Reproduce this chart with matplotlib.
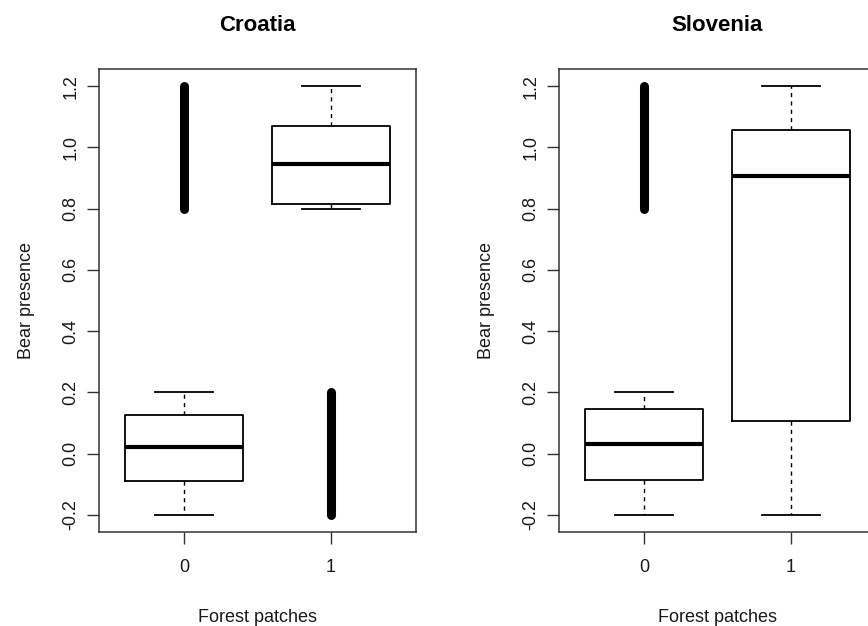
import numpy as np
import matplotlib
matplotlib.use("Agg")
import matplotlib.pyplot as plt

plt.rcParams['font.family'] = ['Liberation Sans', 'DejaVu Sans']

categories = ["0", "1"]
panels = ["Croatia", "Slovenia"]

# box statistics per panel, per category (0, 1)
croatia_whislo = [-0.2, 0.8]
croatia_q1 = [-0.09, 0.815]
croatia_med = [0.02, 0.945]
croatia_q3 = [0.125, 1.07]
croatia_whishi = [0.2, 1.2]
croatia_out_low = [0.8, -0.2]
croatia_out_high = [1.2, 0.2]

slovenia_whislo = [-0.2, -0.2]
slovenia_q1 = [-0.087, 0.106]
slovenia_med = [0.032, 0.907]
slovenia_q3 = [0.145, 1.056]
slovenia_whishi = [0.2, 1.2]
slovenia_out_low = [0.8, np.nan]
slovenia_out_high = [1.2, np.nan]

yticks = [-0.2, 0.0, 0.2, 0.4, 0.6, 0.8, 1.0, 1.2]
ytick_labels = ["-0.2", "0.0", "0.2", "0.4", "0.6", "0.8", "1.0", "1.2"]

data = {
    "Croatia": (croatia_whislo, croatia_q1, croatia_med, croatia_q3, croatia_whishi,
                croatia_out_low, croatia_out_high),
    "Slovenia": (slovenia_whislo, slovenia_q1, slovenia_med, slovenia_q3, slovenia_whishi,
                 slovenia_out_low, slovenia_out_high),
}

fig = plt.figure(figsize=(8.68, 6.26), dpi=100)
positions_ax = [[0.114, 0.1502, 0.3652, 0.7396], [0.644, 0.1502, 0.3652, 0.7396]]
txt = '#1a1a1a'

for name, pos in zip(panels, positions_ax):
    ax = fig.add_axes(pos)
    wl, q1, med, q3, wh, olo, ohi = data[name]
    stats = []
    for i in range(len(categories)):
        stats.append(dict(med=med[i], q1=q1[i], q3=q3[i], whislo=wl[i], whishi=wh[i], fliers=[]))
    xs = np.arange(len(categories))
    ax.bxp(stats, positions=xs, widths=0.8, capwidths=0.4, showfliers=False,
           boxprops=dict(color='black', linewidth=1.3),
           medianprops=dict(color='black', linewidth=3.0, solid_capstyle='butt'),
           whiskerprops=dict(color='black', linewidth=1.0, linestyle=(0, (3, 3))),
           capprops=dict(color='black', linewidth=1.3))
    for i in range(len(categories)):
        if not np.isnan(olo[i]):
            ax.plot([xs[i], xs[i]], [olo[i], ohi[i]], color='black', linewidth=6.5,
                    solid_capstyle='round')
    ax.set_xlim(-0.578, 1.578)
    ax.set_ylim(-0.256, 1.256)
    ax.set_xticks(xs)
    ax.set_xticklabels(categories, fontsize=13, color=txt)
    ax.set_yticks(yticks)
    ax.set_yticklabels(ytick_labels, fontsize=13, color=txt, rotation=90, va='center')
    ax.tick_params(axis='x', length=8.5, width=1.0, pad=11, color='#333333')
    ax.tick_params(axis='y', length=8.5, width=1.0, pad=5.5, color='#333333')
    for s in ax.spines.values():
        s.set_linewidth(1.1)
        s.set_color('#333333')
    ax.set_title(name, fontsize=16, fontweight='bold', pad=27, color='black')
    ax.set_xlabel("Forest patches", fontsize=13, color=txt, labelpad=24)
    ax.set_ylabel("Bear presence", fontsize=13, color=txt, labelpad=19.5)

fig.savefig("out.png", dpi=100)
